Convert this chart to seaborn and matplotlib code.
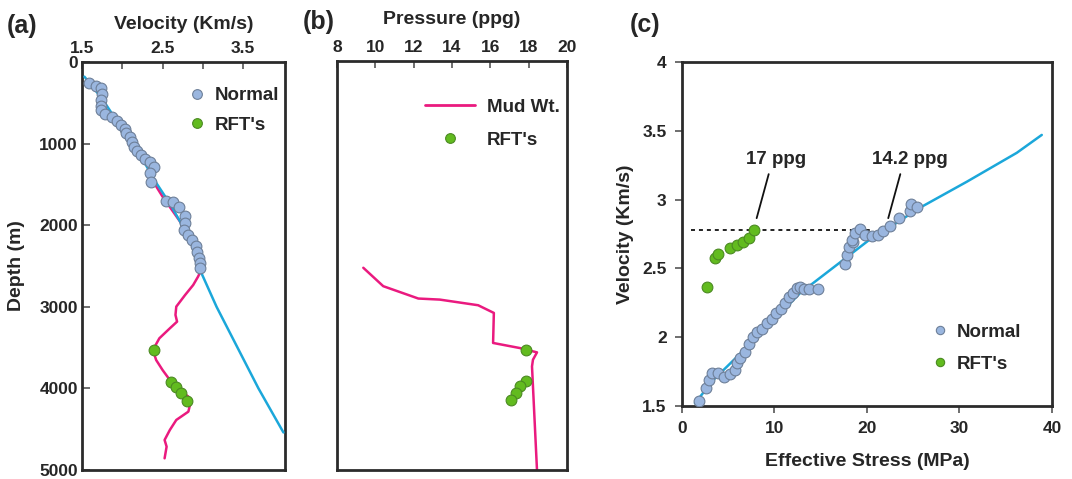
import matplotlib
matplotlib.use("Agg")
import matplotlib.pyplot as plt
import seaborn as sns
import pandas as pd
from matplotlib.lines import Line2D

sns.set_theme(style="white")
plt.rcParams["font.family"] = ["Liberation Sans", "DejaVu Sans"]
plt.rcParams["font.weight"] = "bold"
plt.rcParams["axes.labelweight"] = "bold"

# ---------------- data ----------------
# (a) velocity vs depth
a_normal_vel = [1.59, 1.67, 1.73, 1.75, 1.73, 1.74, 1.74, 1.79, 1.87, 1.93, 1.98, 2.03, 2.05,
                2.09, 2.12, 2.15, 2.18, 2.23, 2.28, 2.34, 2.39, 2.35, 2.36, 2.54, 2.63, 2.71,
                2.78, 2.78, 2.76, 2.82, 2.86, 2.92, 2.93, 2.95, 2.97, 2.97]
a_normal_depth = [261, 294, 323, 396, 466, 539, 588, 641, 678, 719, 772, 825, 874, 923, 976,
                  1038, 1090, 1140, 1193, 1221, 1283, 1364, 1466, 1699, 1712, 1781, 1887, 1969,
                  2059, 2120, 2181, 2255, 2330, 2400, 2460, 2530]
a_trend_vel = [1.53, 1.75, 1.95, 2.20, 2.40, 2.60, 2.72, 2.85, 2.97, 3.17, 3.69, 4.00]
a_trend_depth = [180, 450, 750, 1100, 1450, 1750, 1960, 2200, 2560, 3000, 4000, 4540]
a_mud_vel = [2.38, 2.50, 2.72, 2.85, 2.98, 2.94, 2.88, 2.78, 2.67, 2.66, 2.68, 2.59, 2.46, 2.38,
             2.42, 2.50, 2.59, 2.71, 2.82, 2.84, 2.82, 2.67, 2.59, 2.525, 2.55, 2.525]
a_mud_depth = [1460, 1650, 1960, 2200, 2549, 2631, 2733, 2855, 2998, 3100, 3182, 3264, 3386, 3529,
               3652, 3775, 3897, 4020, 4101, 4203, 4285, 4387, 4510, 4632, 4714, 4857]
a_rft_vel = [2.39, 2.61, 2.67, 2.73, 2.80]
rft_depth = [3529, 3918, 3979, 4061, 4150]

# (b) pressure vs depth
b_mud_ppg = [9.37, 10.41, 12.24, 13.36, 15.36, 16.18, 16.14, 17.53, 18.43, 18.22, 18.17, 18.43]
b_mud_depth = [2528, 2753, 2904, 2917, 2986, 3080, 3447, 3509, 3562, 3652, 3734, 5000]
b_rft_ppg = [17.88, 17.84, 17.53, 17.31, 17.05]

# (c) velocity vs effective stress
c_normal_stress = [1.84, 2.59, 2.92, 3.21, 3.93, 4.58, 5.19, 5.73, 5.91, 6.27, 6.81, 7.24, 7.64,
                   8.07, 8.68, 9.15, 9.69, 10.16, 10.70, 11.14, 11.60, 11.96, 12.40, 12.76, 13.19,
                   13.77, 14.74, 17.62, 17.87, 18.09, 18.52, 18.34, 18.70, 19.24, 19.78, 20.50,
                   21.22, 21.77, 22.49, 23.46, 24.65, 24.72, 25.44]
c_normal_vel = [1.539, 1.629, 1.689, 1.742, 1.742, 1.713, 1.730, 1.762, 1.810, 1.846, 1.895, 1.951,
                2.004, 2.040, 2.057, 2.101, 2.130, 2.174, 2.205, 2.246, 2.290, 2.324, 2.355, 2.367,
                2.348, 2.348, 2.348, 2.530, 2.597, 2.658, 2.694, 2.706, 2.755, 2.787, 2.743, 2.738,
                2.743, 2.774, 2.808, 2.869, 2.917, 2.968, 2.944]
c_rft_stress = [2.74, 3.57, 3.93, 5.15, 5.91, 6.60, 7.20, 7.82]
c_rft_vel = [2.367, 2.575, 2.605, 2.645, 2.670, 2.690, 2.720, 2.779]
c_trend_stress = [1.4, 3.4, 7.35, 12.76, 17.6, 20.3, 22.5, 25.7, 30.8, 36.2, 38.9]
c_trend_vel = [1.52, 1.69, 1.95, 2.32, 2.57, 2.71, 2.80, 2.94, 3.13, 3.34, 3.47]
c_ref_vel = 2.78
c_ref_span = (0.94, 20.7)
ann_text = ["17 ppg", "14.2 ppg"]
ann_point = [(8.07, 2.865), (22.3, 2.865)]
ann_textpos = [(10.2, 3.29), (24.6, 3.29)]

# ---------------- styles ----------------
BLUE_PT = "#9ab6df"
BLUE_EDGE = "#6d7f98"
GREEN = "#62bb1f"
GREEN_EDGE = "#4b8a22"
CYAN = "#1ba7da"
PINK = "#ea1a7f"
SPINE = "#2b2b2b"
TICK_FS = 12.5
LABEL_FS = 14
LEG_FS = 13.5

fig = plt.figure(figsize=(10.72, 4.79), dpi=100)
ax_a = fig.add_axes([0.0765, 0.0188, 0.1894, 0.8518])
ax_b = fig.add_axes([0.3144, 0.0188, 0.2146, 0.8539])
ax_c = fig.add_axes([0.6362, 0.1524, 0.3451, 0.7182])

for ax in (ax_a, ax_b, ax_c):
    for s in ax.spines.values():
        s.set_linewidth(2.0)
        s.set_color(SPINE)
        s.set_visible(True)

pt_kw = dict(s=60, linewidth=0.8, zorder=4, legend=False)

# ---------- panel (a) ----------
df = pd.DataFrame({"v": a_mud_vel, "d": a_mud_depth})
sns.lineplot(data=df, x="v", y="d", sort=False, estimator=None, color=PINK, lw=1.8, ax=ax_a, zorder=2)
df = pd.DataFrame({"v": a_trend_vel, "d": a_trend_depth})
sns.lineplot(data=df, x="v", y="d", sort=False, estimator=None, color=CYAN, lw=1.8, ax=ax_a, zorder=3)
sns.scatterplot(x=a_normal_vel, y=a_normal_depth, color=BLUE_PT, edgecolor=BLUE_EDGE, ax=ax_a, **pt_kw)
sns.scatterplot(x=a_rft_vel, y=rft_depth, color=GREEN, edgecolor=GREEN_EDGE, ax=ax_a, **pt_kw)
ax_a.set_xlim(1.5, 4.02)
ax_a.set_ylim(5000, 0)
ax_a.xaxis.tick_top()
ax_a.xaxis.set_label_position("top")
ax_a.set_xticks([1.5, 2.0, 2.5, 3.0, 3.5])
ax_a.set_xticklabels(["1.5", "", "2.5", "", "3.5"])
ax_a.set_yticks([0, 1000, 2000, 3000, 4000, 5000])
ax_a.tick_params(axis="x", direction="in", length=5, width=1.2, color="#555", top=True, bottom=False,
                 labelsize=TICK_FS, pad=4)
ax_a.tick_params(axis="y", direction="in", length=6, width=1.2, color="#555", left=True,
                 labelsize=TICK_FS, pad=3)
ax_a.set_xlabel("Velocity (Km/s)", fontsize=LABEL_FS, fontweight="bold", labelpad=9)
ax_a.set_ylabel("Depth (m)", fontsize=LABEL_FS, fontweight="bold", labelpad=10)
h_norm = Line2D([], [], ls="none", marker="o", ms=7, mfc=BLUE_PT, mec=BLUE_EDGE, mew=0.8)
h_rft = Line2D([], [], ls="none", marker="o", ms=7, mfc=GREEN, mec=GREEN_EDGE, mew=0.8)
ax_a.legend([h_norm, h_rft], ["Normal", "RFT's"], loc="upper left", bbox_to_anchor=(0.52, 0.938),
            frameon=False, borderaxespad=0, borderpad=0, handlelength=1.0, handletextpad=0.46,
            labelspacing=0.64, prop=dict(size=LEG_FS, weight="bold"))

# ---------- panel (b) ----------
df = pd.DataFrame({"p": b_mud_ppg, "d": b_mud_depth})
sns.lineplot(data=df, x="p", y="d", sort=False, estimator=None, color=PINK, lw=1.8, ax=ax_b, zorder=2)
sns.scatterplot(x=b_rft_ppg, y=rft_depth, color=GREEN, edgecolor=GREEN_EDGE, ax=ax_b, **pt_kw)
ax_b.set_xlim(8, 20)
ax_b.set_ylim(5000, 0)
ax_b.xaxis.tick_top()
ax_b.xaxis.set_label_position("top")
ax_b.set_xticks([8, 10, 12, 14, 16, 18, 20])
ax_b.set_yticks([])
ax_b.tick_params(axis="x", direction="in", length=5, width=1.2, color="#555", top=True, bottom=False,
                 labelsize=TICK_FS, pad=4)
ax_b.set_xlabel("Pressure (ppg)", fontsize=LABEL_FS, fontweight="bold", labelpad=12)
ax_b.set_ylabel("")
h_mud = Line2D([], [], color=PINK, lw=2)
h_rft_b = Line2D([], [], ls="none", marker="o", ms=7, mfc=GREEN, mec=GREEN_EDGE, mew=0.8)
ax_b.legend([h_mud, h_rft_b], ["Mud Wt.", "RFT's"], loc="upper left", bbox_to_anchor=(0.383, 0.908),
            frameon=False, borderaxespad=0, borderpad=0, handlelength=2.67, handletextpad=0.64,
            labelspacing=0.85, prop=dict(size=LEG_FS, weight="bold"))

# ---------- panel (c) ----------
df = pd.DataFrame({"s": c_trend_stress, "v": c_trend_vel})
sns.lineplot(data=df, x="s", y="v", sort=False, estimator=None, color=CYAN, lw=1.8, ax=ax_c, zorder=2)
ax_c.hlines(c_ref_vel, c_ref_span[0], c_ref_span[1], colors="#111", linestyles=(0, (2.2, 2.2)),
            lw=1.3, zorder=1)
sns.scatterplot(x=c_normal_stress, y=c_normal_vel, color=BLUE_PT, edgecolor=BLUE_EDGE, ax=ax_c, **pt_kw)
sns.scatterplot(x=c_rft_stress, y=c_rft_vel, color=GREEN, edgecolor=GREEN_EDGE, ax=ax_c, **pt_kw)
for txt, xy, xyt in zip(ann_text, ann_point, ann_textpos):
    ax_c.annotate(txt, xy=xy, xytext=xyt, ha="center", va="center", fontsize=LEG_FS, fontweight="bold",
                  arrowprops=dict(arrowstyle="-", color="#111", lw=1.3, relpos=(0.4, 0.0),
                                  shrinkA=2, shrinkB=0))
ax_c.set_xlim(0, 40)
ax_c.set_ylim(1.5, 4)
ax_c.set_xticks([0, 10, 20, 30, 40])
ax_c.set_yticks([1.5, 2, 2.5, 3, 3.5, 4])
ax_c.set_yticklabels(["1.5", "2", "2.5", "3", "3.5", "4"])
ax_c.tick_params(axis="both", direction="out", length=5, width=1.2, color="#555",
                 bottom=True, left=True, labelsize=TICK_FS, pad=6)
ax_c.set_xlabel("Effective Stress (MPa)", fontsize=LABEL_FS, fontweight="bold", labelpad=12)
ax_c.set_ylabel("Velocity (Km/s)", fontsize=LABEL_FS, fontweight="bold", labelpad=6)
h_norm_c = Line2D([], [], ls="none", marker="o", ms=6, mfc=BLUE_PT, mec=BLUE_EDGE, mew=0.8)
h_rft_c = Line2D([], [], ls="none", marker="o", ms=6, mfc=GREEN, mec=GREEN_EDGE, mew=0.8)
ax_c.legend([h_norm_c, h_rft_c], ["Normal", "RFT's"], loc="upper left", bbox_to_anchor=(0.672, 0.24),
            frameon=False, borderaxespad=0, borderpad=0, handlelength=1.0, handletextpad=0.39,
            labelspacing=0.8, prop=dict(size=LEG_FS, weight="bold"))

# panel letters
fig.text(0.006, 0.945, "(a)", fontsize=18, fontweight="bold", va="center", ha="left")
fig.text(0.282, 0.955, "(b)", fontsize=18, fontweight="bold", va="center", ha="left")
fig.text(0.587, 0.948, "(c)", fontsize=18, fontweight="bold", va="center", ha="left")

fig.savefig("out.png", dpi=100)
